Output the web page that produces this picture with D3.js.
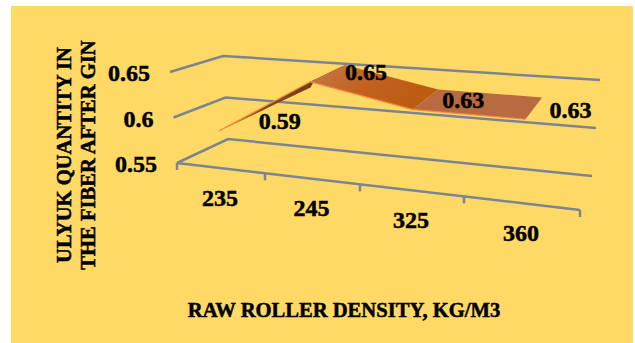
<!DOCTYPE html>
<html>
<head>
<meta charset="utf-8">
<script src="https://cdn.jsdelivr.net/npm/d3@7"></script>
<style>
  html, body { margin: 0; padding: 0; background: #fff; }
  svg { display: block; }
  text { font-family: "Liberation Serif", serif; font-weight: bold; fill: #000; stroke: #000; stroke-width: 0.5px; }
</style>
</head>
<body>
<svg id="chart" width="635" height="343"></svg>
<script>
const categories = ["235", "245", "325", "360"];
const values = [0.59, 0.65, 0.63, 0.63];
const valueTicks = [0.55, 0.6, 0.65];
const yTitleLines = ["ULYUK QUANTITY IN", "THE FIBER AFTER GIN"];
const xTitle = "RAW ROLLER DENSITY, KG/M3";

const svg = d3.select("#chart");

svg.append("rect").attr("x", 11).attr("y", 6).attr("width", 622).attr("height", 337).attr("fill", "#FFD966");

// The box is a perspective view: category slots widen towards the right.
const slot = d3.scaleLinear().domain([0, 1, 2, 3, 4]).range([177, 265, 360, 464, 580]);
const floorY = d3.scaleLinear().domain([177, 580]).range([163, 210]);
const depthX = d3.scaleLinear().domain([0, 4]).range([51, 12]);
const depthY = d3.scaleLinear().domain([0, 4]).range([-24, -34]);
const rise = d3.scaleLinear().domain([0, 4]).range([45.5, 53.5]);
const riseBack = d3.scaleLinear().domain([0, 4]).range([41.5, 48]);
const lean = d3.scaleLinear().domain([0, 4]).range([-3.5, 3]);
const leanBack = d3.scaleLinear().domain([0, 4]).range([-2.5, 4]);
const steps = d3.scaleLinear().domain([0.55, 0.6]).range([0, 1]);

// Maps slot position u, depth d (0 front, 1 back) and a value to the page.
function project(u, d, value) {
  const s = steps(value);
  const baseX = slot(u);
  const baseY = floorY(baseX);
  const r = d3.interpolateNumber(rise(u), riseBack(u))(d);
  const l = d3.interpolateNumber(lean(u), leanBack(u))(d);
  return [baseX + depthX(u) * d + l * s, baseY + depthY(u) * d - r * s];
}

const line = d3.line();
const gridColor = "#7B8492";
const grid = svg.append("g").attr("fill", "none").attr("stroke", gridColor).attr("stroke-width", 2.5);

// Wall gridlines: along the left side, then across the back.
valueTicks.forEach(v => {
  grid.append("path").attr("d", line([project(0, 0, v), project(0, 1, v), project(4, 1, v)]));
});
// Front edge of the floor and its tick marks.
grid.append("path").attr("d", line([project(0, 0, 0.55), project(4, 0, 0.55)]));
d3.range(0, 5).forEach(u => {
  const p = project(u, 0, 0.55);
  grid.append("path").attr("d", line([p, [p[0], p[1] + 7]]));
});

const defs = svg.append("defs");
const SURFACE_DEPTH = 0.9;
const gradA = defs.append("linearGradient").attr("id", "facetA")
  .attr("x1", "0").attr("y1", "0").attr("x2", "1").attr("y2", "0.35");
gradA.append("stop").attr("offset", "0").attr("stop-color", "#C47A45");
gradA.append("stop").attr("offset", "0.55").attr("stop-color", "#C26120");
gradA.append("stop").attr("offset", "1").attr("stop-color", "#BC5C12");
const gradU = defs.append("linearGradient").attr("id", "underside")
  .attr("x1", "0").attr("y1", "1").attr("x2", "1").attr("y2", "0");
gradU.append("stop").attr("offset", "0").attr("stop-color", "#E8842F");
gradU.append("stop").attr("offset", "0.45").attr("stop-color", "#8A4A1C");
gradU.append("stop").attr("offset", "1").attr("stop-color", "#6E3A16");

const facetFills = ["url(#underside)", "url(#facetA)", "#B86B40"];
const points = values.map((v, i) => ({ v, u: i + 0.5 }));

// Surface ribbon, one facet per pair of neighbouring categories.
const surface = svg.append("g");
d3.pairs(points).forEach(([a, b], i) => {
  const corners = [
    project(a.u, 0, a.v), project(b.u, 0, b.v),
    project(b.u, SURFACE_DEPTH, b.v), project(a.u, SURFACE_DEPTH, a.v)
  ];
  surface.append("path").attr("d", line(corners) + "Z").attr("fill", facetFills[i]);
  // The rising facet is seen almost edge-on, so its underside shows as a wedge.
  if (i === 0) {
    surface.append("path")
      .attr("d", line([
        project(a.u, 0, a.v),
        project(b.u, 0.12, b.v),
        project(b.u, 0, b.v - 0.006)
      ]) + "Z")
      .attr("fill", "url(#underside)");
  }
  surface.append("path")
    .attr("d", line([project(a.u, 0, a.v), project(b.u, 0, b.v)]))
    .attr("fill", "none").attr("stroke", "#F78B3C").attr("stroke-width", 1.2);
});

// Value labels sit to the right of each front vertex.
const labelDx = d3.scaleLinear().domain([0.5, 3.5]).range([61, 45]);
const FONT = 24;
values.forEach((v, i) => {
  const u = i + 0.5;
  const p = project(u, 0, v);
  svg.append("text").attr("x", p[0] + labelDx(u)).attr("y", p[1] - 9.5)
    .attr("text-anchor", "middle").attr("dominant-baseline", "central")
    .attr("font-size", FONT).text(d3.format(".2f")(v));
});

// Category labels under the floor.
categories.forEach((c, i) => {
  const p = project(i + 0.5, 0, 0.55);
  svg.append("text").attr("x", p[0] - 1).attr("y", p[1] + 29.5)
    .attr("text-anchor", "middle").attr("dominant-baseline", "central")
    .attr("font-size", FONT).text(c);
});

// Value axis labels beside the left wall.
valueTicks.forEach(v => {
  const p = project(0, 0, v);
  svg.append("text").attr("x", p[0] - 20).attr("y", p[1] + 1)
    .attr("text-anchor", "end").attr("dominant-baseline", "central")
    .attr("font-size", FONT).text(d3.format("~g")(v));
});

// Axis titles.
svg.append("text").attr("x", 344).attr("y", 310)
  .attr("text-anchor", "middle").attr("dominant-baseline", "central")
  .attr("font-size", 20.6).text(xTitle);
yTitleLines.forEach((t, i) => {
  svg.append("text").attr("transform", `translate(${64 + i * 24},155) rotate(-90)`)
    .attr("text-anchor", "middle").attr("dominant-baseline", "central")
    .attr("font-size", 20.6).text(t);
});
</script>
</body>
</html>
